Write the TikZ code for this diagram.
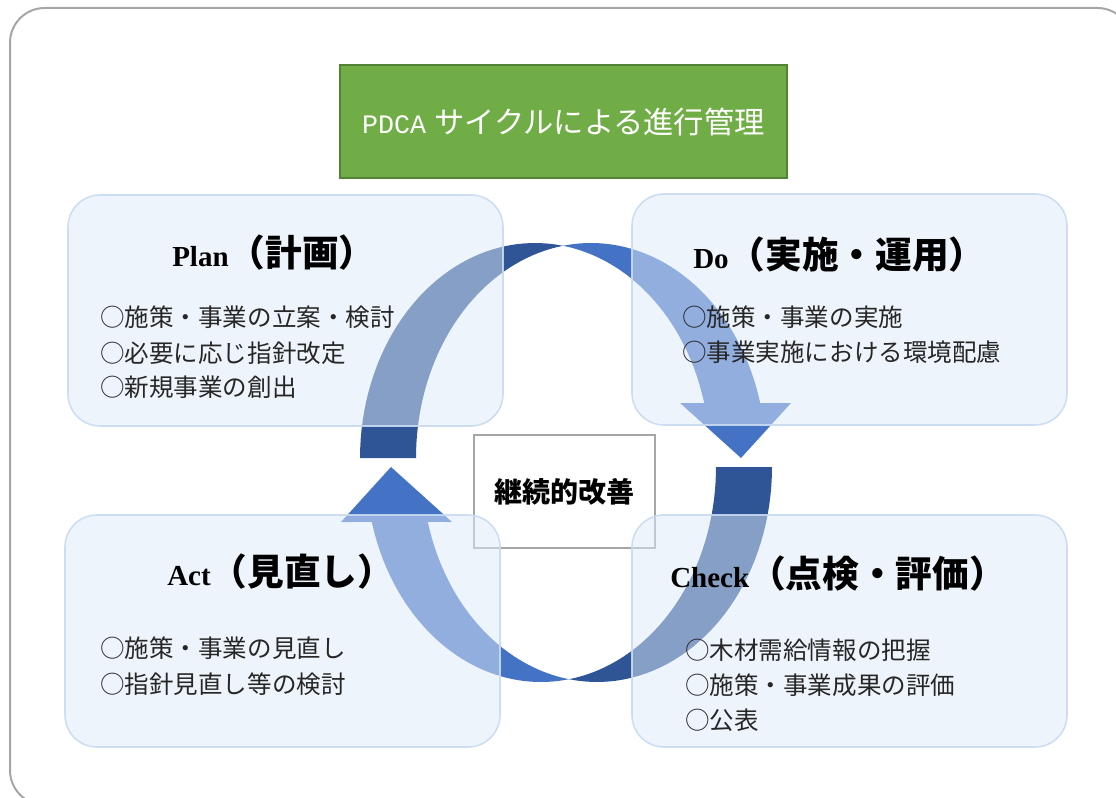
\documentclass[tikz,border=0pt]{standalone}
\usepackage{fontspec}
\setmainfont{Liberation Serif}
\newfontfamily\jp{Noto Sans CJK JP}
\newfontfamily\ttl{Liberation Mono}
\definecolor{darkb}{HTML}{2F5597}
\definecolor{frontb}{HTML}{4472C4}
\definecolor{qfill}{RGB}{222,234,248}
\definecolor{qline}{RGB}{200,219,241}
\definecolor{tgreen}{HTML}{70AD47}
\definecolor{tgreenline}{HTML}{548235}
\definecolor{framec}{HTML}{A6A6A6}
\begin{document}
\begin{tikzpicture}[x=0.75pt,y=-0.75pt,
  qbox/.style={fill=qfill, fill opacity=0.5, draw=qline, draw opacity=0.9, line width=1.2pt, rounded corners=24pt},
  head/.style={anchor=west, inner sep=0pt},
  item/.style={anchor=west, inner sep=0pt, font=\jp\fontsize{18.4}{22}\selectfont, text=black!85},
]
\useasboundingbox (0,0) rectangle (1116,798);
\clip (0,0) rectangle (1116,798);
% outer frame
\draw[framec, line width=1.5pt, rounded corners=26pt] (10,8) rectangle (1132,805);

% centre box
\node[draw=framec, line width=1.5pt, fill=white, minimum width=135.75pt, minimum height=84.75pt, inner sep=0pt,
      font=\jp\bfseries\fontsize{21}{24}\selectfont] (kaizen) at (564.5,491.5) {継続的改善};

% curved arrows (upper one, then the same rotated 180 degrees)
\foreach \r in {0,180}{
  \begin{scope}[rotate around={\r:(566,462.5)}]
    \fill[darkb] plot[domain=180:80.79,samples=40] ({535+175*cos(\x)},{458-215*sin(\x)})
      -- plot[domain=99.21:180,samples=40] ({591+175*cos(\x)},{458-215*sin(\x)}) -- cycle;
    \fill[frontb] plot[domain=99.21:14.82,samples=50] ({591+175*cos(\x)},{458-215*sin(\x)})
      -- (791,403) -- (741,458) -- (680,403)
      -- plot[domain=14.82:80.79,samples=50] ({535+175*cos(\x)},{458-215*sin(\x)}) -- cycle;
  \end{scope}
}

% quadrant boxes
\path[qbox] (68,195) rectangle (503,426);
\path[qbox] (632,194) rectangle (1067,425);
\path[qbox] (65,515) rectangle (500,747);
\path[qbox] (632,515) rectangle (1067,747);

% title
\node[draw=tgreenline, line width=1.5pt, fill=tgreen, minimum width=335.25pt, minimum height=84.75pt, inner sep=0pt, text=white]
  (title) at (563.5,121.5) {{\ttl\fontsize{20}{24}\selectfont PDCA}\hspace{6pt}{\jp\fontsize{22.7}{26}\selectfont サイクルによる進行管理}};

% headers
\node[head] (planh) at (172,253) {{\bfseries\fontsize{21.75}{26}\selectfont Plan}{\jp\bfseries\fontsize{27.5}{30}\selectfont （計画）}};
\node[head] (doh) at (693,255) {{\bfseries\fontsize{21.75}{26}\selectfont Do}{\jp\bfseries\fontsize{27.5}{30}\selectfont （実施・運用）}};
\node[head] (acth) at (167,572) {{\bfseries\fontsize{21.75}{26}\selectfont Act}{\jp\bfseries\fontsize{27.5}{30}\selectfont （見直し）}};
\node[head] (checkh) at (670,574) {{\bfseries\fontsize{21.75}{26}\selectfont Check}{\jp\bfseries\fontsize{27.5}{30}\selectfont （点検・評価）}};

% items
\node[item] (p1) at (100,317) {○施策・事業の立案・検討};
\node[item] (p2) at (100,353) {○必要に応じ指針改定};
\node[item] (p3) at (100,387) {○新規事業の創出};
\node[item] (d1) at (682,317) {○施策・事業の実施};
\node[item] (d2) at (682,352) {○事業実施における環境配慮};
\node[item] (c1) at (685,650) {○木材需給情報の把握};
\node[item] (c2) at (685,685) {○施策・事業成果の評価};
\node[item] (c3) at (685,720) {○公表};
\node[item] (a1) at (100,648) {○施策・事業の見直し};
\node[item] (a2) at (100,684) {○指針見直し等の検討};
\end{tikzpicture}
\end{document}
